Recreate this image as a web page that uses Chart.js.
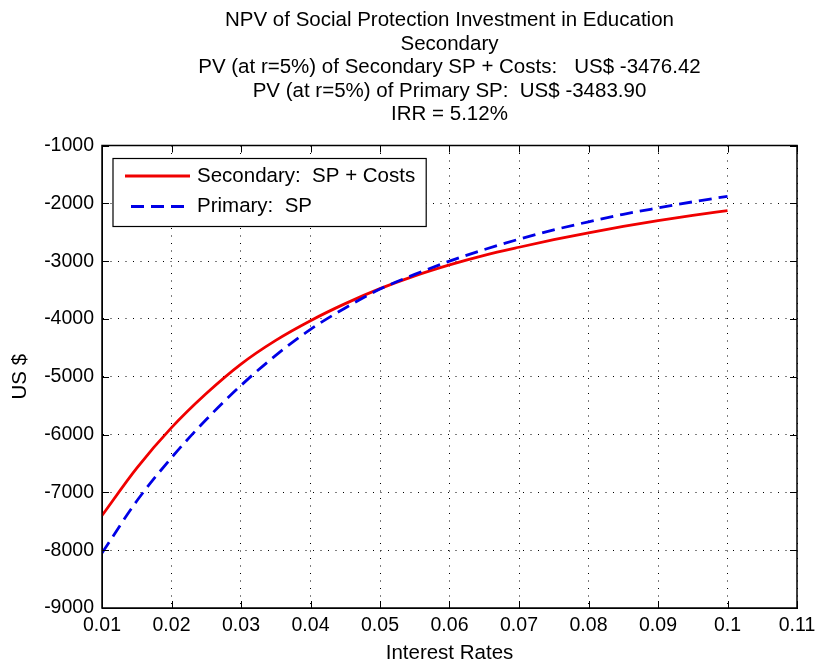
<!DOCTYPE html>
<html>
<head>
<meta charset="utf-8">
<script src="https://cdn.jsdelivr.net/npm/chart.js@4.4.1/dist/chart.umd.min.js"></script>
<style>
  html, body { margin: 0; padding: 0; background: #ffffff; }
  #wrap { width: 816px; height: 664px; }
</style>
</head>
<body>
<div id="wrap"><canvas id="npv" width="816" height="664"></canvas></div>
<script>
// Discount rates used for the present-value calculation
const rates = [0.01, 0.015, 0.02, 0.025, 0.03, 0.035, 0.04, 0.045, 0.05, 0.055,
               0.06, 0.065, 0.07, 0.075, 0.08, 0.085, 0.09, 0.095, 0.1];

// NPV (US$) of the secondary social-protection transfers plus schooling costs
const secondarySPCosts = [-7400, -6580, -5880, -5290, -4780, -4370, -4030, -3735, -3476.42, -3255,
                          -3065, -2900, -2760, -2630, -2510, -2400, -2300, -2210, -2126];

// NPV (US$) of the primary social-protection transfers
const primarySP = [-8050, -7150, -6400, -5740, -5150, -4630, -4180, -3810, -3483.90, -3230,
                   -3000, -2800, -2620, -2460, -2320, -2190, -2080, -1975, -1878];

const seriesNames = ['Secondary:  SP + Costs', 'Primary:  SP'];

const titleLines = [
  'NPV of Social Protection Investment in Education',
  'Secondary',
  'PV (at r=5%) of Secondary SP + Costs:   US$ -3476.42',
  'PV (at r=5%) of Primary SP:  US$ -3483.90',
  'IRR = 5.12%'
];

const FONT = '"Liberation Sans", Arial, sans-serif';
const TEXT_SIZE = 20.5;
const TICK_SIZE = 19.5;

function toPoints(xs, ys) {
  return xs.map((x, i) => ({ x: x, y: ys[i] }));
}

// Box, inward tick marks and boxed legend drawn on top of the plot
const boxedAxes = {
  id: 'boxedAxes',
  afterDatasetsDraw(chart) {
    const ctx = chart.ctx;
    const { left, right, top, bottom } = chart.chartArea;
    const xs = chart.scales.x, ys = chart.scales.y;
    const tickLen = 7;
    ctx.save();
    ctx.strokeStyle = '#000';
    ctx.lineWidth = 1;
    ctx.setLineDash([]);
    ctx.beginPath();
    xs.ticks.forEach(t => {
      const px = Math.round(xs.getPixelForValue(t.value)) + 0.5;
      ctx.moveTo(px, bottom); ctx.lineTo(px, bottom - tickLen);
      ctx.moveTo(px, top); ctx.lineTo(px, top + tickLen);
    });
    ys.ticks.forEach(t => {
      const py = Math.round(ys.getPixelForValue(t.value)) + 0.5;
      ctx.moveTo(left, py); ctx.lineTo(left + tickLen, py);
      ctx.moveTo(right, py); ctx.lineTo(right - tickLen, py);
    });
    ctx.stroke();
    ctx.lineWidth = 1.5;
    ctx.strokeRect(left, top, right - left, bottom - top);

    // legend
    ctx.font = TEXT_SIZE + 'px ' + FONT;
    const textX = left + 95;
    const widest = Math.max(...chart.data.datasets.map(ds => ctx.measureText(ds.label).width));
    const lx = left + 11, ly = top + 13, lh = 68;
    const lw = textX + widest + 11 - lx;
    ctx.fillStyle = '#fff';
    ctx.fillRect(lx, ly, lw, lh);
    ctx.lineWidth = 1.2;
    ctx.strokeStyle = '#000';
    ctx.strokeRect(lx, ly, lw, lh);
    const rows = [ly + 17.5, ly + 48];
    chart.data.datasets.forEach((ds, i) => {
      const y = rows[i];
      ctx.strokeStyle = ds.borderColor;
      ctx.lineWidth = ds.borderWidth;
      ctx.setLineDash(ds.borderDash || []);
      ctx.beginPath();
      ctx.moveTo(lx + (ds.borderDash ? 18 : 12), y);
      ctx.lineTo(lx + 77, y);
      ctx.stroke();
      ctx.setLineDash([]);
      ctx.fillStyle = '#000';
      ctx.textBaseline = 'middle';
      ctx.textAlign = 'left';
      ctx.fillText(ds.label, textX, y);
    });
    ctx.restore();
  }
};

new Chart(document.getElementById('npv'), {
  type: 'line',
  data: {
    datasets: [
      {
        label: seriesNames[0],
        data: toPoints(rates, secondarySPCosts),
        borderColor: '#f00000',
        borderWidth: 2.8,
        pointRadius: 0,
        cubicInterpolationMode: 'monotone',
        fill: false,
        order: 1
      },
      {
        label: seriesNames[1],
        data: toPoints(rates, primarySP),
        borderColor: '#0000e6',
        borderWidth: 2.8,
        borderDash: [13, 7],
        pointRadius: 0,
        cubicInterpolationMode: 'monotone',
        fill: false,
        order: 0
      }
    ]
  },
  options: {
    responsive: false,
    devicePixelRatio: 1,
    animation: false,
    layout: { padding: { top: 0, right: 19, left: 0, bottom: 0 } },
    plugins: {
      legend: { display: false },
      tooltip: { enabled: false },
      title: {
        display: true,
        fullSize: false,
        text: titleLines,
        color: '#000',
        font: { family: FONT, size: TEXT_SIZE, weight: 'normal', lineHeight: '23.5px' },
        padding: { top: 9, bottom: 19 }
      }
    },
    scales: {
      x: {
        type: 'linear',
        min: 0.01,
        max: 0.11,
        ticks: {
          stepSize: 0.01,
          color: '#000',
          font: { family: FONT, size: TICK_SIZE },
          padding: 6,
          maxRotation: 0,
          callback: v => Number(v.toFixed(2)).toString()
        },
        grid: {
          color: '#000',
          lineWidth: 1,
          drawTicks: false
        },
        border: { display: true, color: '#000', dash: [1, 6.5] },
        title: {
          display: true,
          text: 'Interest Rates',
          color: '#000',
          font: { family: FONT, size: TEXT_SIZE, lineHeight: 1.05 },
          padding: { top: 0, bottom: 0 }
        },
        afterFit: s => { s.height = 56; s.paddingLeft = 0; s.paddingRight = 0; }
      },
      y: {
        min: -9000,
        max: -1000,
        ticks: {
          stepSize: 1000,
          color: '#000',
          font: { family: FONT, size: TICK_SIZE },
          padding: 8,
          callback: v => String(v)
        },
        grid: {
          color: '#000',
          lineWidth: 1,
          drawTicks: false
        },
        border: { display: true, color: '#000', dash: [1, 6.5] },
        title: {
          display: true,
          text: 'US $',
          color: '#000',
          font: { family: FONT, size: TEXT_SIZE },
          padding: { top: 8, bottom: 0 }
        },
        afterFit: s => { s.width = 102; }
      }
    }
  },
  plugins: [boxedAxes]
});
</script>
</body>
</html>
